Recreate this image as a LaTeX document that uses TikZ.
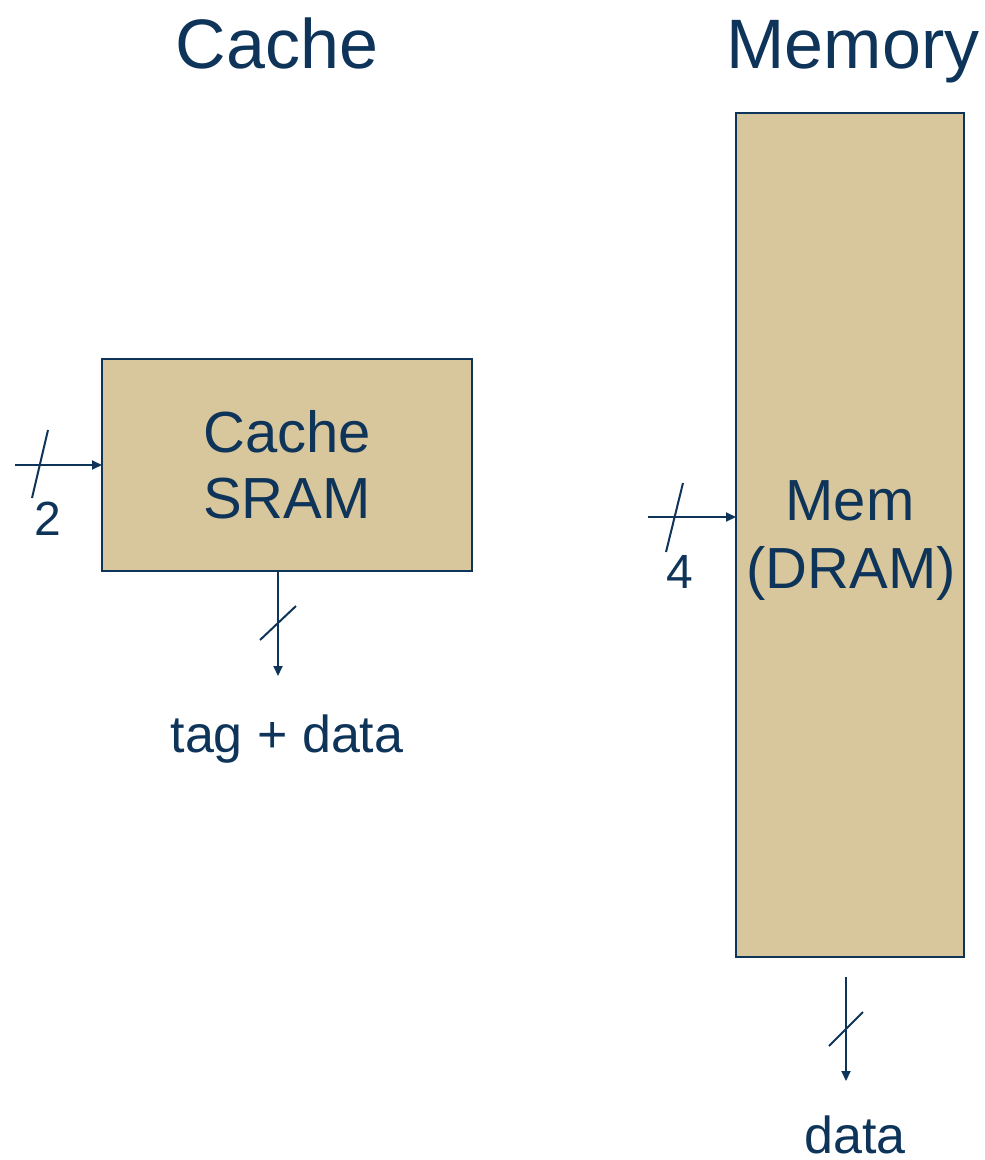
\documentclass[tikz,border=0pt]{standalone}
\usepackage{fontspec}
\setmainfont{Liberation Sans}
\usetikzlibrary{arrows.meta}
\definecolor{navy}{HTML}{0E3459}
\definecolor{tan}{HTML}{D8C79C}
\begin{document}
\begin{tikzpicture}[x=1bp,y=-1bp,
  box/.style={draw=navy,fill=tan,line width=2bp},
  wire/.style={draw=navy,line width=2bp,-{Triangle[length=10bp,width=9bp]}},
  slash/.style={draw=navy,line width=2bp},
  num/.style={text=navy,font=\fontsize{48bp}{56bp}\selectfont,inner sep=0pt,anchor=base},
  lbl/.style={text=navy,font=\fontsize{52bp}{60bp}\selectfont,inner sep=0pt,anchor=base},
  title/.style={text=navy,font=\fontsize{70bp}{80bp}\selectfont,inner sep=0pt,anchor=base},
  inner/.style={text=navy,font=\fontsize{58bp}{66bp}\selectfont,inner sep=0pt,anchor=base}]
\useasboundingbox (0,0) rectangle (985,1160);
\node[title] (t1) at (277,68) {Cache};
\node[title] (t2) at (853,68) {Memory};
\path[box] (102,359) rectangle (472,571);
\node[inner] (cs1) at (287,452) {Cache};
\node[inner] (cs2) at (287,518) {SRAM};
\coordinate (csw) at (102,465);
\coordinate (css) at (278,571);
\path[box] (736,113) rectangle (964,957);
\node[inner] (mem1) at (850,520) {Mem};
\node[inner] (mem2) at (851,588) {(DRAM)};
\coordinate (memw) at (736,517);
\coordinate (l1) at (15,465);
\draw[wire] (l1) -- (csw);
\draw[slash] (48,430) -- (32,498);
\node[num] (n2) at (48,535) {2};
\coordinate (d1) at (278,676);
\draw[wire] (css) -- (d1);
\draw[slash] (260,640) -- (296,606);
\node[lbl] (td) at (287,752) {tag + data};
\coordinate (l2) at (648,517);
\draw[wire] (l2) -- (memw);
\draw[slash] (683,483) -- (666,552);
\node[num] (n4) at (680,588) {4};
\coordinate (m1) at (846,977);
\coordinate (m2) at (846,1081);
\draw[wire] (m1) -- (m2);
\draw[slash] (829,1046) -- (863,1012);
\node[lbl] (dt) at (855,1153) {data};
\end{tikzpicture}
\end{document}
